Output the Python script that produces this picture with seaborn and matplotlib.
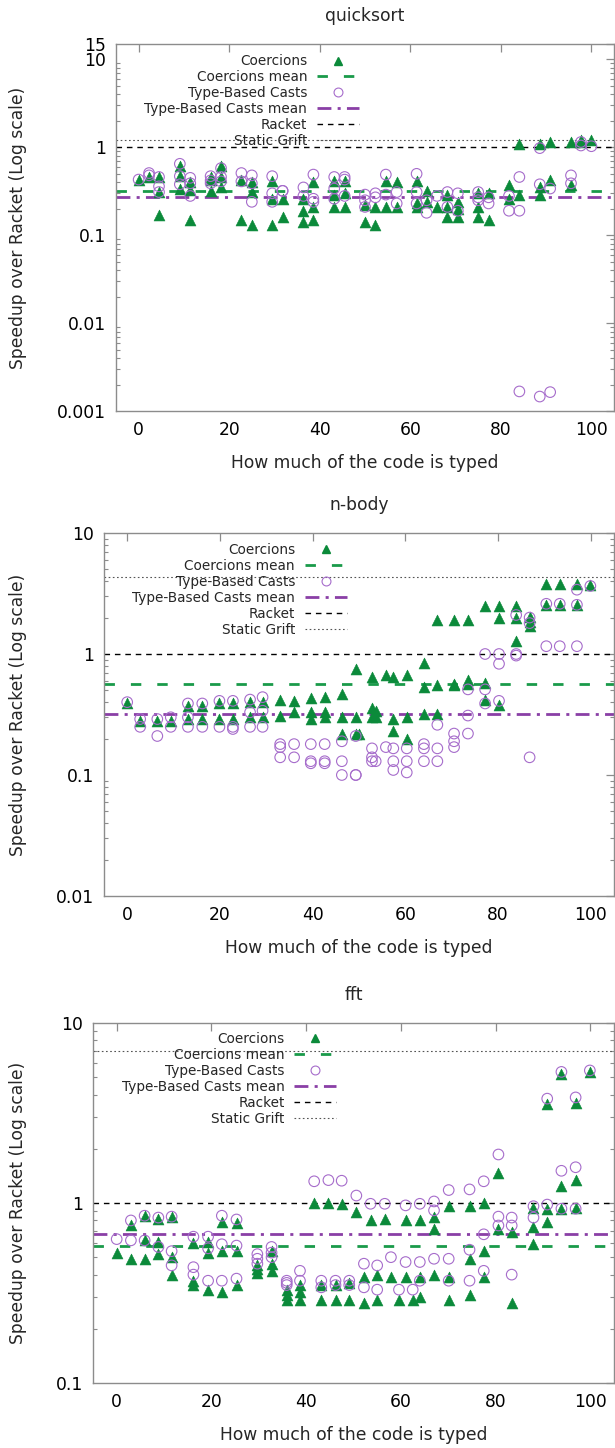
import matplotlib
matplotlib.use("Agg")
import matplotlib.pyplot as plt
import seaborn as sns
import pandas as pd
from matplotlib.lines import Line2D
from matplotlib.ticker import FixedLocator, FixedFormatter, LogLocator, NullFormatter

sns.set_theme(style="white")
plt.rcParams['font.family'] = ['DejaVu Sans']
plt.rcParams['lines.scale_dashes'] = False

# ---------------- data ----------------
TITLES = ["quicksort", "n-body", "fft"]
X_TICKS = [0, 20, 40, 60, 80, 100]

# quicksort
QS_X = [0, 2.3, 4.5, 9.1, 11.4, 15.9, 18.2, 22.7, 25.0, 29.5, 31.8, 36.4, 38.6, 43.2, 45.5,
        50.0, 52.3, 54.6, 57.0, 61.4, 63.6, 65.9, 68.2, 70.5, 75.0, 77.3, 81.8, 84.1, 88.6,
        90.9, 95.5, 97.7, 100]
QS_COER = [[0.43], [0.46], [0.46, 0.31, 0.17], [0.62, 0.47, 0.34], [0.40, 0.33, 0.15],
           [0.46, 0.42, 0.32], [0.62, 0.46, 0.35], [0.43, 0.15], [0.40, 0.31, 0.13],
           [0.41, 0.26, 0.13], [0.26, 0.16], [0.26, 0.19, 0.14], [0.40, 0.21, 0.15],
           [0.41, 0.29, 0.21], [0.41, 0.30, 0.21], [0.22, 0.14], [0.21, 0.13], [0.41, 0.21],
           [0.40, 0.21], [0.41, 0.23, 0.21], [0.32, 0.24], [0.21], [0.29, 0.21, 0.16],
           [0.24, 0.20, 0.16], [0.30, 0.21, 0.16], [0.30, 0.15], [0.37, 0.26], [1.10, 0.29],
           [1.10, 0.35, 0.29], [1.15, 0.42], [1.15, 0.37], [1.20, 1.15], [1.22]]
QS_CAST = [[0.43], [0.51, 0.48], [0.46, 0.36, 0.31], [0.65, 0.47, 0.38], [0.45, 0.39, 0.28],
           [0.47, 0.42, 0.39], [0.58, 0.46, 0.41], [0.51, 0.41], [0.48, 0.39, 0.24],
           [0.47, 0.30, 0.24], [0.32, 0.32], [0.35, 0.28], [0.49, 0.26, 0.24],
           [0.46, 0.34, 0.26], [0.46, 0.43, 0.28], [0.29, 0.25, 0.21], [0.30, 0.27],
           [0.49, 0.29], [0.31, 0.23], [0.50, 0.31, 0.23], [0.25, 0.18], [0.28], [0.31, 0.21],
           [0.30, 0.19], [0.31, 0.27, 0.25], [0.27, 0.23], [0.28, 0.19], [0.46, 0.19, 0.00167],
           [0.98, 0.38, 0.00146], [0.34, 0.00164], [0.48, 0.39], [1.05, 1.15], [1.03]]
QS_LINES = [0.32, 0.27, 1.0, 1.22]  # coercions mean, casts mean, racket, static grift
QS_YTICKS = [0.001, 0.01, 0.1, 1, 10, 15]
QS_YLABELS = ["0.001", "0.01", "0.1", "1", "10", "15"]

# n-body
NB_X = [0, 2.8, 6.5, 9.4, 13.1, 16.2, 19.9, 22.8, 26.5, 29.2, 33.0, 36.0, 39.6, 42.6, 46.3,
        49.3, 50.0, 52.8, 53.6, 55.8, 57.4, 60.3, 64.0, 66.9, 70.5, 73.5, 77.2, 80.2, 83.9,
        86.8, 90.4, 93.3, 97.0, 99.9]
NB_COER = [[0.39], [0.28], [0.28], [0.28], [0.37, 0.29], [0.37, 0.29], [0.39, 0.29],
           [0.39, 0.29], [0.40, 0.30], [0.40, 0.30], [0.42, 0.31], [0.41, 0.33],
           [0.43, 0.33, 0.29], [0.44, 0.33, 0.30], [0.47, 0.30, 0.22], [0.75, 0.30, 0.22],
           [0.22], [0.65, 0.36, 0.30], [0.34, 0.30], [0.67], [0.65, 0.29, 0.23],
           [0.67, 0.30, 0.20], [0.85, 0.53, 0.32], [1.9, 0.55, 0.32], [1.9, 0.57, 0.55],
           [1.9, 0.61, 0.57], [2.5, 0.58, 0.42], [2.5, 1.97, 0.38], [2.5, 1.97, 1.29],
           [2.03, 1.85, 1.7], [3.8, 2.55], [3.8, 2.55], [3.8, 2.55], [3.7]]
NB_CAST = [[0.40], [0.29, 0.25], [0.29, 0.21], [0.30, 0.25], [0.39, 0.30, 0.25], [0.39, 0.25],
           [0.41, 0.25], [0.41, 0.25, 0.24], [0.42, 0.33, 0.25], [0.44, 0.34, 0.25],
           [0.18, 0.17, 0.14], [0.18, 0.14], [0.18, 0.13, 0.125], [0.18, 0.13, 0.125],
           [0.19, 0.13, 0.10], [0.21, 0.10, 0.10], [], [0.166, 0.14, 0.13], [0.13], [0.17],
           [0.166, 0.13, 0.11], [0.166, 0.13, 0.105], [0.18, 0.166, 0.13], [0.26, 0.166, 0.13],
           [0.22, 0.19, 0.17], [0.51, 0.31, 0.22], [1.0, 0.51, 0.39], [1.0, 0.83, 0.41],
           [2.1, 1.0, 0.97], [2.0, 1.8, 0.14], [2.6, 1.16], [2.6, 1.16], [3.4, 2.55, 1.16],
           [3.65]]
NB_LINES = [0.57, 0.32, 1.0, 4.35]
NB_YTICKS = [0.01, 0.1, 1, 10]
NB_YLABELS = ["0.01", "0.1", "1", "10"]

# fft
FFT_X = [0, 3.0, 5.9, 8.8, 11.6, 16.2, 19.3, 22.2, 25.3, 29.7, 32.7, 35.9, 38.7, 41.7, 43.2,
         44.7, 46.2, 47.5, 49.1, 50.6, 52.2, 53.6, 55.0, 56.6, 57.9, 59.6, 61.0, 62.5, 64.0,
         67.0, 70.1, 74.5, 77.5, 80.6, 83.4, 88.0, 90.9, 93.9, 96.9, 99.9]
FFT_COER = [[0.53], [0.75, 0.49], [0.85, 0.62, 0.49], [0.82, 0.61, 0.52], [0.84, 0.50, 0.40],
            [0.60, 0.37, 0.35], [0.61, 0.53, 0.33], [0.78, 0.54, 0.32], [0.77, 0.54, 0.35],
            [0.45, 0.43, 0.41], [0.54, 0.46, 0.42], [0.33, 0.31, 0.29], [0.35, 0.32, 0.29],
            [1.0], [0.35, 0.29], [1.0], [0.35, 0.29], [0.99], [0.36, 0.29], [0.89],
            [0.39, 0.28], [0.80], [0.40, 0.29], [0.81], [0.39], [0.29], [0.80, 0.39], [0.29],
            [0.80, 0.39, 0.30], [0.84, 0.72, 0.40], [0.96, 0.39, 0.29], [0.96, 0.49, 0.31],
            [1.0, 0.54, 0.39], [1.47, 0.72], [0.69, 0.28], [0.94, 0.74, 0.59],
            [3.55, 0.93, 0.78], [5.2, 1.24, 0.93], [3.6, 1.34, 0.94], [5.35]]
FFT_CAST = [[0.63], [0.80, 0.62], [0.85, 0.62], [0.83, 0.57], [0.84, 0.54, 0.45],
            [0.65, 0.44, 0.40], [0.65, 0.56, 0.37], [0.85, 0.59, 0.37], [0.81, 0.58, 0.38],
            [0.52, 0.49, 0.46], [0.57, 0.53, 0.50], [0.37, 0.36, 0.35], [0.42, 0.37],
            [1.32], [0.37, 0.34], [1.34], [0.37, 0.35], [1.33], [0.37, 0.35], [1.10],
            [0.46, 0.34], [0.99], [0.45, 0.33], [0.99], [0.50], [0.33], [0.97, 0.47], [0.33],
            [0.99, 0.47, 0.37], [1.02, 0.91, 0.49], [1.18, 0.49, 0.37], [1.19, 0.55, 0.37],
            [1.32, 0.67, 0.42], [1.86, 0.84, 0.75], [0.83, 0.75, 0.40], [0.96, 0.83],
            [3.8, 0.98], [5.35, 1.51, 0.93], [3.86, 1.58, 0.93], [5.45]]
FFT_LINES = [0.58, 0.67, 1.0, 6.96]
FFT_YTICKS = [0.1, 1, 10]
FFT_YLABELS = ["0.1", "1", "10"]

LEGEND_LABELS = ["Coercions", "Coercions mean", "Type-Based Casts",
                 "Type-Based Casts mean", "Racket", "Static Grift"]

# ---------------- styling ----------------
GREEN = '#0b8a3a'
GREEN_LN = '#1a9a4a'
PURPLE_PT = '#a66ccb'
PURPLE_LN = '#8a3fa6'
FRAME = '#8c8c8c'
W, H = 615, 1448

def table(xs, cols):
    rows = [(x, v) for x, col in zip(xs, cols) for v in col]
    return pd.DataFrame(rows, columns=["typed", "speedup"])

panels = [
    dict(title=TITLES[0], x=QS_X, coer=QS_COER, cast=QS_CAST, lines=QS_LINES,
         yt=QS_YTICKS, yl=QS_YLABELS, ylim=(0.001, 15),
         box=(116, 44, 614, 411), leg=(0.488, 0.972)),
    dict(title=TITLES[1], x=NB_X, coer=NB_COER, cast=NB_CAST, lines=NB_LINES,
         yt=NB_YTICKS, yl=NB_YLABELS, ylim=(0.01, 10),
         box=(104, 533, 614, 896), leg=(0.476, 0.972)),
    dict(title=TITLES[2], x=FFT_X, coer=FFT_COER, cast=FFT_CAST, lines=FFT_LINES,
         yt=FFT_YTICKS, yl=FFT_YLABELS, ylim=(0.1, 10),
         box=(93, 1023, 614, 1383), leg=(0.467, 0.975)),
]

ls_coer = (0, (7.5, 11.5))
ls_cast = (0, (10, 4.5, 2.2, 4.5))
ls_racket = (0, (4, 3.5))
ls_grift = (0, (1.2, 1.8))

fig = plt.figure(figsize=(W / 100, H / 100), dpi=100)
fig.patch.set_facecolor('white')

for p in panels:
    l, t, r, b = p["box"]
    ax = fig.add_axes([l / W, 1 - b / H, (r - l) / W, (b - t) / H])
    ax.set_facecolor('white')
    ax.set_yscale('log')
    ax.set_xlim(-5, 105)
    ax.set_ylim(*p["ylim"])

    cm, tm, rk, sg = p["lines"]
    ax.axhline(sg, color='#555555', lw=0.8, ls=ls_grift, zorder=1)
    ax.axhline(rk, color='black', lw=1.0, ls=ls_racket, zorder=1)
    ax.axhline(cm, color=GREEN_LN, lw=2.0, ls=ls_coer, zorder=1)
    ax.axhline(tm, color=PURPLE_LN, lw=2.0, ls=ls_cast, zorder=1)

    dc = table(p["x"], p["cast"])
    dk = table(p["x"], p["coer"])
    sns.scatterplot(data=dk, x="typed", y="speedup", ax=ax, marker='^', s=62,
                    color=GREEN, edgecolor=GREEN, linewidth=0.4, zorder=3, legend=False)
    sns.scatterplot(data=dc, x="typed", y="speedup", ax=ax, marker='o', s=58,
                    color=PURPLE_PT, facecolors='none', edgecolor=PURPLE_PT,
                    linewidth=0.8, zorder=4, legend=False)

    ax.set_xlabel("")
    ax.set_ylabel("")
    ax.xaxis.set_major_locator(FixedLocator(X_TICKS))
    ax.yaxis.set_major_locator(FixedLocator(p["yt"]))
    ax.yaxis.set_major_formatter(FixedFormatter(p["yl"]))
    ax.yaxis.set_minor_locator(LogLocator(base=10, subs=[2, 3, 4, 5, 6, 7, 8, 9]))
    ax.yaxis.set_minor_formatter(NullFormatter())
    ax.tick_params(axis='both', which='major', direction='in', length=6, width=0.9,
                   color=FRAME, labelsize=12.3, labelcolor='black', top=True, right=True,
                   pad=7)
    ax.tick_params(axis='y', which='minor', direction='in', length=3.2, width=0.8,
                   color=FRAME, left=True, right=True)
    for sp in ax.spines.values():
        sp.set_color(FRAME)
        sp.set_linewidth(1.0)
        sp.set_visible(True)

    handles = [
        Line2D([], [], marker='^', ls='none', color=GREEN, markersize=6.2),
        Line2D([], [], color=GREEN_LN, lw=2.0, ls=ls_coer),
        Line2D([], [], marker='o', ls='none', markerfacecolor='none',
               markeredgecolor=PURPLE_PT, markeredgewidth=0.8, markersize=6.4),
        Line2D([], [], color=PURPLE_LN, lw=2.0, ls=ls_cast),
        Line2D([], [], color='black', lw=1.0, ls=ls_racket),
        Line2D([], [], color='#555555', lw=0.8, ls=ls_grift),
    ]
    ax.legend(handles, LEGEND_LABELS, loc='upper right', bbox_to_anchor=p["leg"],
              frameon=False, markerfirst=False, fontsize=9.8, handlelength=3.1,
              handletextpad=0.7, labelspacing=0.14, borderpad=0, borderaxespad=0)

    cx = (l + r) / 2 / W
    fig.text(cx, 1 - (t - 28) / H, p["title"], ha='center', va='center', fontsize=12.3)
    fig.text(cx, 1 - (b + 52) / H, "How much of the code is typed", ha='center',
             va='center', fontsize=12.3)
    fig.text(18 / W, 1 - ((t + b) / 2) / H, "Speedup over Racket (Log scale)",
             ha='center', va='center', rotation=90, fontsize=12.3)

fig.savefig("out.png", dpi=100, facecolor='white')
